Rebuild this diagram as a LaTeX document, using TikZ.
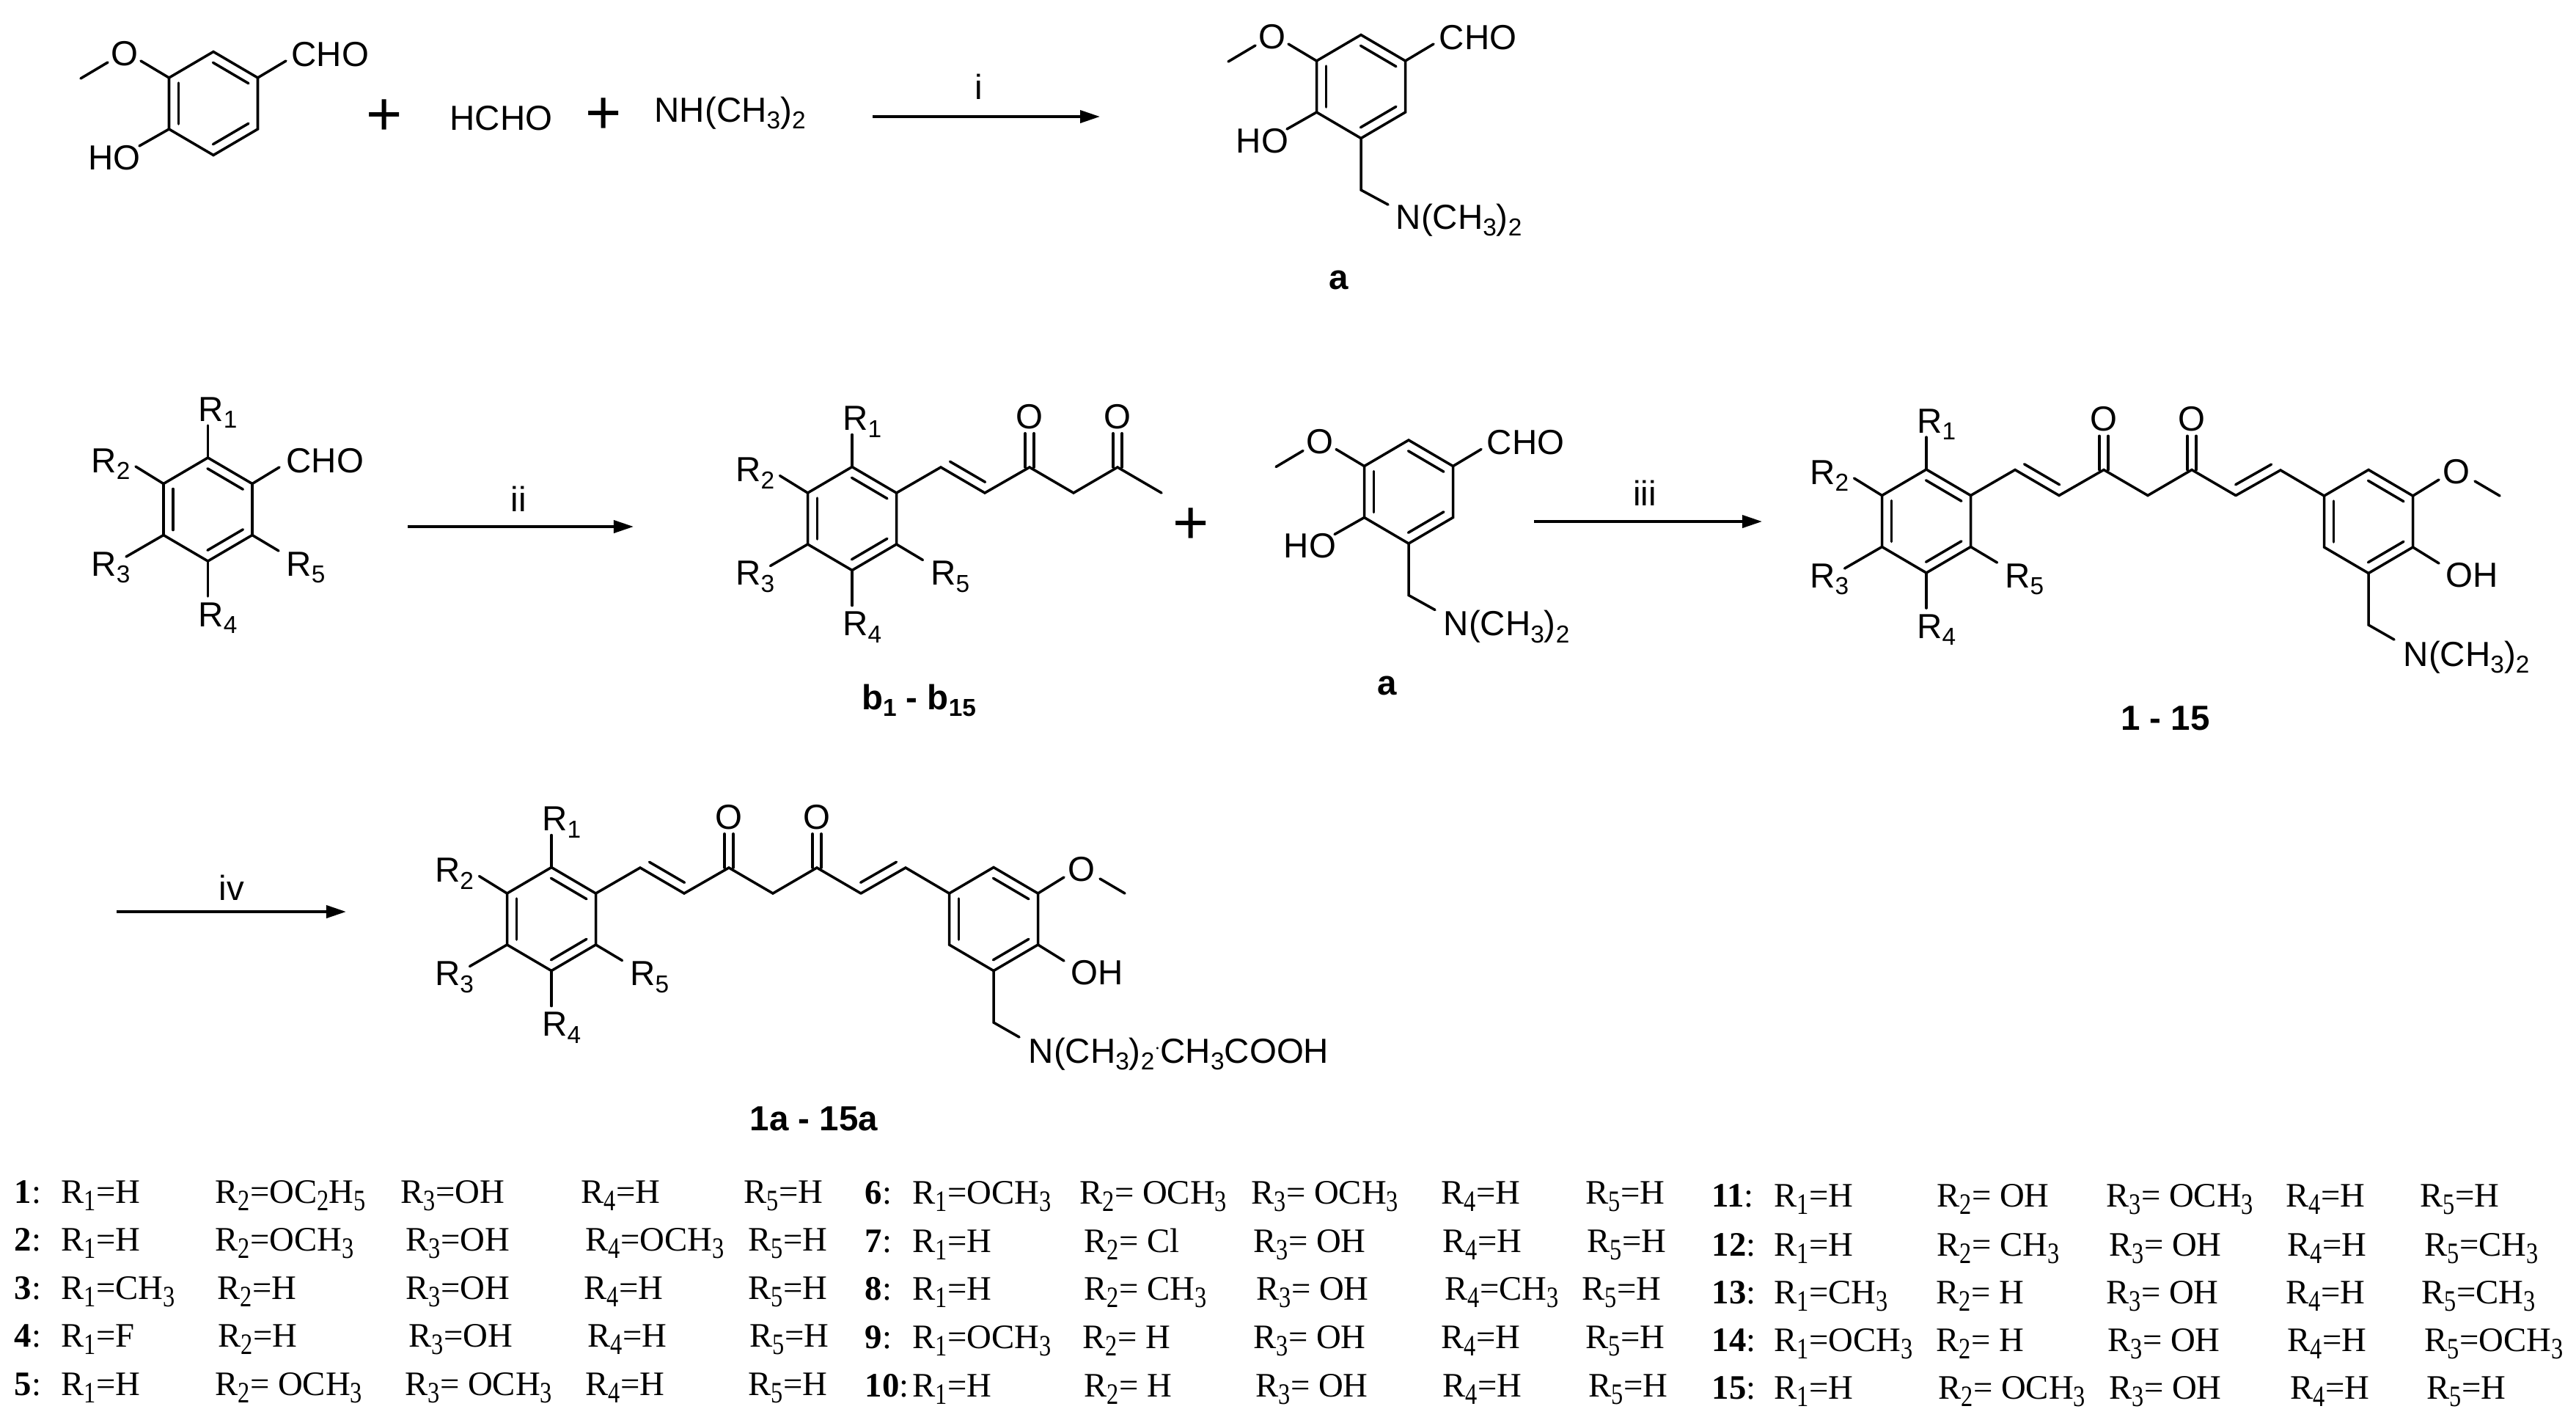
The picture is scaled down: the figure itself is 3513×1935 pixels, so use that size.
\documentclass[tikz,border=0pt]{standalone}
\usepackage{fontspec}
\usepackage{graphicx}
\setmainfont{Liberation Sans}
\newfontfamily\tabfont{Liberation Serif}
\usetikzlibrary{calc,arrows.meta}
\tikzset{
  bond/.style={line width=1pt,line cap=round,line join=miter},
  chem/.style={font=\fontsize{13.5}{13.5}\selectfont,inner sep=0pt,anchor=base west},
  atom/.style={font=\fontsize{13.5}{13.5}\selectfont,inner sep=1.5pt,anchor=center},
  title/.style={font=\fontsize{13.5}{13.5}\selectfont\bfseries,inner sep=0pt,anchor=base},
  cross/.style={font=\fontsize{24}{24}\selectfont,inner sep=0pt,anchor=center},
  reag/.style={font=\fontsize{13.5}{13.5}\selectfont,inner sep=0pt,anchor=center},
  rxn/.style={line width=1.1pt,-{Triangle[length=.27cm,width=.17cm]}},
  cell/.style={font=\tabfont\fontsize{13.3}{13.3}\selectfont,inner sep=0pt,anchor=base west}
}
\newcommand{\csb}[1]{\raisebox{-2.8pt}{\fontsize{9.5}{9.5}\selectfont #1}}
\newcommand{\tsb}[1]{\raisebox{-3pt}{\scalebox{.8}[1]{\fontsize{11.5}{11.5}\selectfont #1}}}
\newcommand{\inbond}[2]{\draw[bond] ($(#1)!0.1!(#2)!0.13cm!90:(#2)$) -- ($(#2)!0.1!(#1)!0.13cm!-90:(#1)$);}
% benzene ring, points t ur lr b ll ul
\newcommand{\hexring}[2]{
  \begin{scope}[shift={#2}]
    \coordinate (#1t) at (0,-70.5);
    \coordinate (#1ur) at (60.5,-35);
    \coordinate (#1lr) at (60.5,35);
    \coordinate (#1b) at (0,70.5);
    \coordinate (#1ll) at (-60.5,35);
    \coordinate (#1ul) at (-60.5,-35);
  \end{scope}
  \draw[bond] (#1t)--(#1ur)--(#1lr)--(#1b)--(#1ll)--(#1ul)--cycle;
  \inbond{#1ur}{#1t}
  \inbond{#1ul}{#1ll}
  \inbond{#1b}{#1lr}
}
% R1 to R5 round a ring
\newcommand{\rgroups}[2]{
  \begin{scope}[shift={#2}]
    \coordinate (#1e1) at (0,-114.5);
    \coordinate (#1e2) at (-98.5,-58.5);
    \coordinate (#1e3) at (-111.5,64.5);
    \coordinate (#1e4) at (0,118.5);
    \coordinate (#1e5) at (96.5,56.5);
    \node[chem] (#1r1) at (-13.5,-120.5) {R\csb{1}};
    \node[chem] (#1r2) at (-159.5,-50.5) {R\csb{2}};
    \node[chem] (#1r3) at (-159.5,90.5) {R\csb{3}};
    \node[chem] (#1r4) at (-13.5,159.5) {R\csb{4}};
    \node[chem] (#1r5) at (106.5,90.5) {R\csb{5}};
  \end{scope}
  \draw[bond] (#1t)--(#1e1);
  \draw[bond] (#1ul)--(#1e2);
  \draw[bond] (#1ll)--(#1e3);
  \draw[bond] (#1b)--(#1e4);
  \draw[bond] (#1lr)--(#1e5);
}
% methoxy, hydroxy and formyl groups
\newcommand{\vanilla}[2]{
  \hexring{#1}{#2}
  \begin{scope}[shift={#2}]
    \coordinate (#1m1) at (-99,-58);
    \coordinate (#1m2) at (-144,-56);
    \coordinate (#1m3) at (-181,-34);
    \coordinate (#1m4) at (99,-58);
    \coordinate (#1m5) at (-101,58);
    \node[atom] (#1ome) at (-121,-68) {O};
    \node[chem] (#1cho) at (106,-51) {CHO};
    \node[chem] (#1oh) at (-171,90) {HO};
  \end{scope}
  \draw[bond] (#1ul)--(#1m1);
  \draw[bond] (#1m2)--(#1m3);
  \draw[bond] (#1ur)--(#1m4);
  \draw[bond] (#1ll)--(#1m5);
}
\newcommand{\amine}[4]{
  \begin{scope}[shift={#2}]
    \coordinate (#1n1) at (0,141);
    \coordinate (#1n2) at (#3,161);
    \node[chem] (#1nme) at (47,#4) {N(CH\csb{3})\csb{2}};
  \end{scope}
  \draw[bond] (#1b)--(#1n1)--(#1n2);
}
% aryl ring with the chain as far as the second C=O
\newcommand{\ketochain}[2]{
  \hexring{#1}{#2}
  \rgroups{#1}{#2}
  \begin{scope}[shift={#2}]
    \coordinate (#1c1) at (121,-70);
    \coordinate (#1c2) at (181,-35);
    \coordinate (#1c3) at (242,-70);
    \coordinate (#1c4) at (302,-35);
    \coordinate (#1c5) at (362,-70);
    \coordinate (#1c6) at (422,-35);
    \node[atom] (#1o1) at (242,-139) {O};
    \node[atom] (#1o2) at (362,-139) {O};
  \end{scope}
  \draw[bond] (#1ur)--(#1c1)--(#1c2)--(#1c3)--(#1c4)--(#1c5)--(#1c6);
  \inbond{#1c1}{#1c2}
  \draw[bond] ([xshift=-.06cm]#1c3)--([xshift=-.06cm]#1o1.south);
  \draw[bond] ([xshift=.06cm]#1c3)--([xshift=.06cm]#1o1.south);
  \draw[bond] ([xshift=-.06cm]#1c5)--([xshift=-.06cm]#1o2.south);
  \draw[bond] ([xshift=.06cm]#1c5)--([xshift=.06cm]#1o2.south);
}
% the full compound, #3 left ring centre, #2 right ring centre
\newcommand{\dienone}[3]{
  \ketochain{#1}{#3}
  \hexring{#1q}{#2}
  \begin{scope}[shift={#2}]
    \coordinate (#1c7) at (-120,-70);
    \coordinate (#1m1) at (96,-57);
    \coordinate (#1m2) at (145,-55);
    \coordinate (#1m3) at (179,-35);
    \coordinate (#1m4) at (96,57);
    \node[atom] (#1ome) at (120,-68) {O};
    \node[chem] (#1oh) at (105,89) {OH};
  \end{scope}
  \draw[bond] (#1c6)--(#1c7)--(#1qul);
  \inbond{#1c6}{#1c7}
  \draw[bond] (#1qur)--(#1m1);
  \draw[bond] (#1m2)--(#1m3);
  \draw[bond] (#1qlr)--(#1m4);
}
\begin{document}
\begin{tikzpicture}[x=0.01cm,y=-0.01cm]
\useasboundingbox (0,0) rectangle (3513,1935);
% first reaction
\vanilla{s}{(291,141)}
\node[cross] (p1) at (524,160) {+};
\node[chem] (hcho) at (613,177) {HCHO};
\node[cross] (p2) at (823,158) {+};
\node[chem] (nh) at (892,166) {NH(CH\csb{3})\csb{2}};
\coordinate (i1) at (1190,159);
\coordinate (i2) at (1500,159);
\draw[rxn] (i1)--(i2);
\node[reag] (ri) at (1335,118) {i};
\vanilla{a}{(1856,118)}
\amine{a}{(1856,118)}{37}{194}
\node[title] (la) at (1826,394) {a};
% second reaction
\hexring{u}{(283.5,694.5)}
\rgroups{u}{(283.5,694.5)}
\coordinate (uf) at (381,637);
\draw[bond] (uur)--(uf);
\node[chem] (ucho) at (390,644) {CHO};
\coordinate (ii1) at (556,718);
\coordinate (ii2) at (864,718);
\draw[rxn] (ii1)--(ii2);
\node[reag] (rii) at (707,680) {ii};
\ketochain{b}{(1162,707)}
\node[title] (lb) at (1253,967) {b\csb{1} - b\csb{15}};
\node[cross] (p3) at (1624,717) {+};
\vanilla{v}{(1921,670.5)}
\amine{v}{(1921,670.5)}{36}{196}
\node[title] (lv) at (1892,947) {a};
\coordinate (iii1) at (2092,711);
\coordinate (iii2) at (2403,711);
\draw[rxn] (iii1)--(iii2);
\node[reag] (riii) at (2243,672) {iii};
\dienone{d}{(3230,711)}{(2627,710.5)}
\amine{dq}{(3230,711)}{35}{197}
\node[title] (ld) at (2953,995) {1 - 15};
% third reaction
\coordinate (iv1) at (159,1243);
\coordinate (iv2) at (472,1243);
\draw[rxn] (iv1)--(iv2);
\node[reag] (riv) at (316,1210) {iv};
\dienone{e}{(1355,1253)}{(752,1253)}
\begin{scope}[shift={(1355,1253)}]
  \coordinate (eqn1) at (0,141);
  \coordinate (eqn2) at (35,161);
  \node[chem] (eqnme) at (47,196) {N(CH\csb{3})\csb{2}\raisebox{3.5pt}{\fontsize{8}{8}\selectfont$\cdot$}CH\csb{3}COOH};
\end{scope}
\draw[bond] (eqb)--(eqn1)--(eqn2);
\node[title] (le) at (1110,1541) {1a - 15a};
% table of substituents
\foreach \rn/\yy/\xn/\xa/\xb/\xc/\xd/\xe/\va/\vb/\vc/\vd/\ve in {
  1/1640/19/83/293/546/792/1014/H/OC\tsb{2}H\tsb{5}/OH/H/H,
  2/1705/19/83/293/553/798/1020/H/OCH\tsb{3}/OH/OCH\tsb{3}/H,
  3/1771/19/83/296/553/796/1020/CH\tsb{3}/H/OH/H/H,
  4/1836/19/83/297/557/801/1022/F/H/OH/H/H,
  5/1902/19/83/293/552/798/1020/H/\ OCH\tsb{3}/\ OCH\tsb{3}/H/H,
  6/1641/1179/1244/1472/1706/1965/2162/OCH\tsb{3}/\ OCH\tsb{3}/\ OCH\tsb{3}/H/H,
  7/1707/1179/1244/1478/1709/1967/2164/H/\ Cl/\ OH/H/H,
  8/1772/1179/1244/1478/1713/1970/2157/H/\ CH\tsb{3}/\ OH/CH\tsb{3}/H,
  9/1838/1179/1244/1476/1709/1965/2162/OCH\tsb{3}/\ H/\ OH/H/H,
  10/1904/1179/1244/1478/1712/1967/2166/H/\ H/\ OH/H/H,
  11/1645/2334/2419/2641/2872/3117/3300/H/\ OH/\ OCH\tsb{3}/H/H,
  12/1712/2334/2419/2641/2876/3119/3306/H/\ CH\tsb{3}/\ OH/H/CH\tsb{3},
  13/1777/2334/2419/2640/2872/3117/3302/CH\tsb{3}/\ H/\ OH/H/CH\tsb{3},
  14/1842/2334/2419/2640/2874/3119/3306/OCH\tsb{3}/\ H/\ OH/H/OCH\tsb{3},
  15/1907/2334/2419/2643/2876/3123/3309/H/\ OCH\tsb{3}/\ OH/H/H}{
  \node[cell] (n\rn) at (\xn,\yy) {\textbf{\rn}:};
  \node[cell] (a\rn) at (\xa,\yy) {R\tsb{1}=\va};
  \node[cell] (b\rn) at (\xb,\yy) {R\tsb{2}=\vb};
  \node[cell] (c\rn) at (\xc,\yy) {R\tsb{3}=\vc};
  \node[cell] (d\rn) at (\xd,\yy) {R\tsb{4}=\vd};
  \node[cell] (e\rn) at (\xe,\yy) {R\tsb{5}=\ve};
}
\end{tikzpicture}
\end{document}
